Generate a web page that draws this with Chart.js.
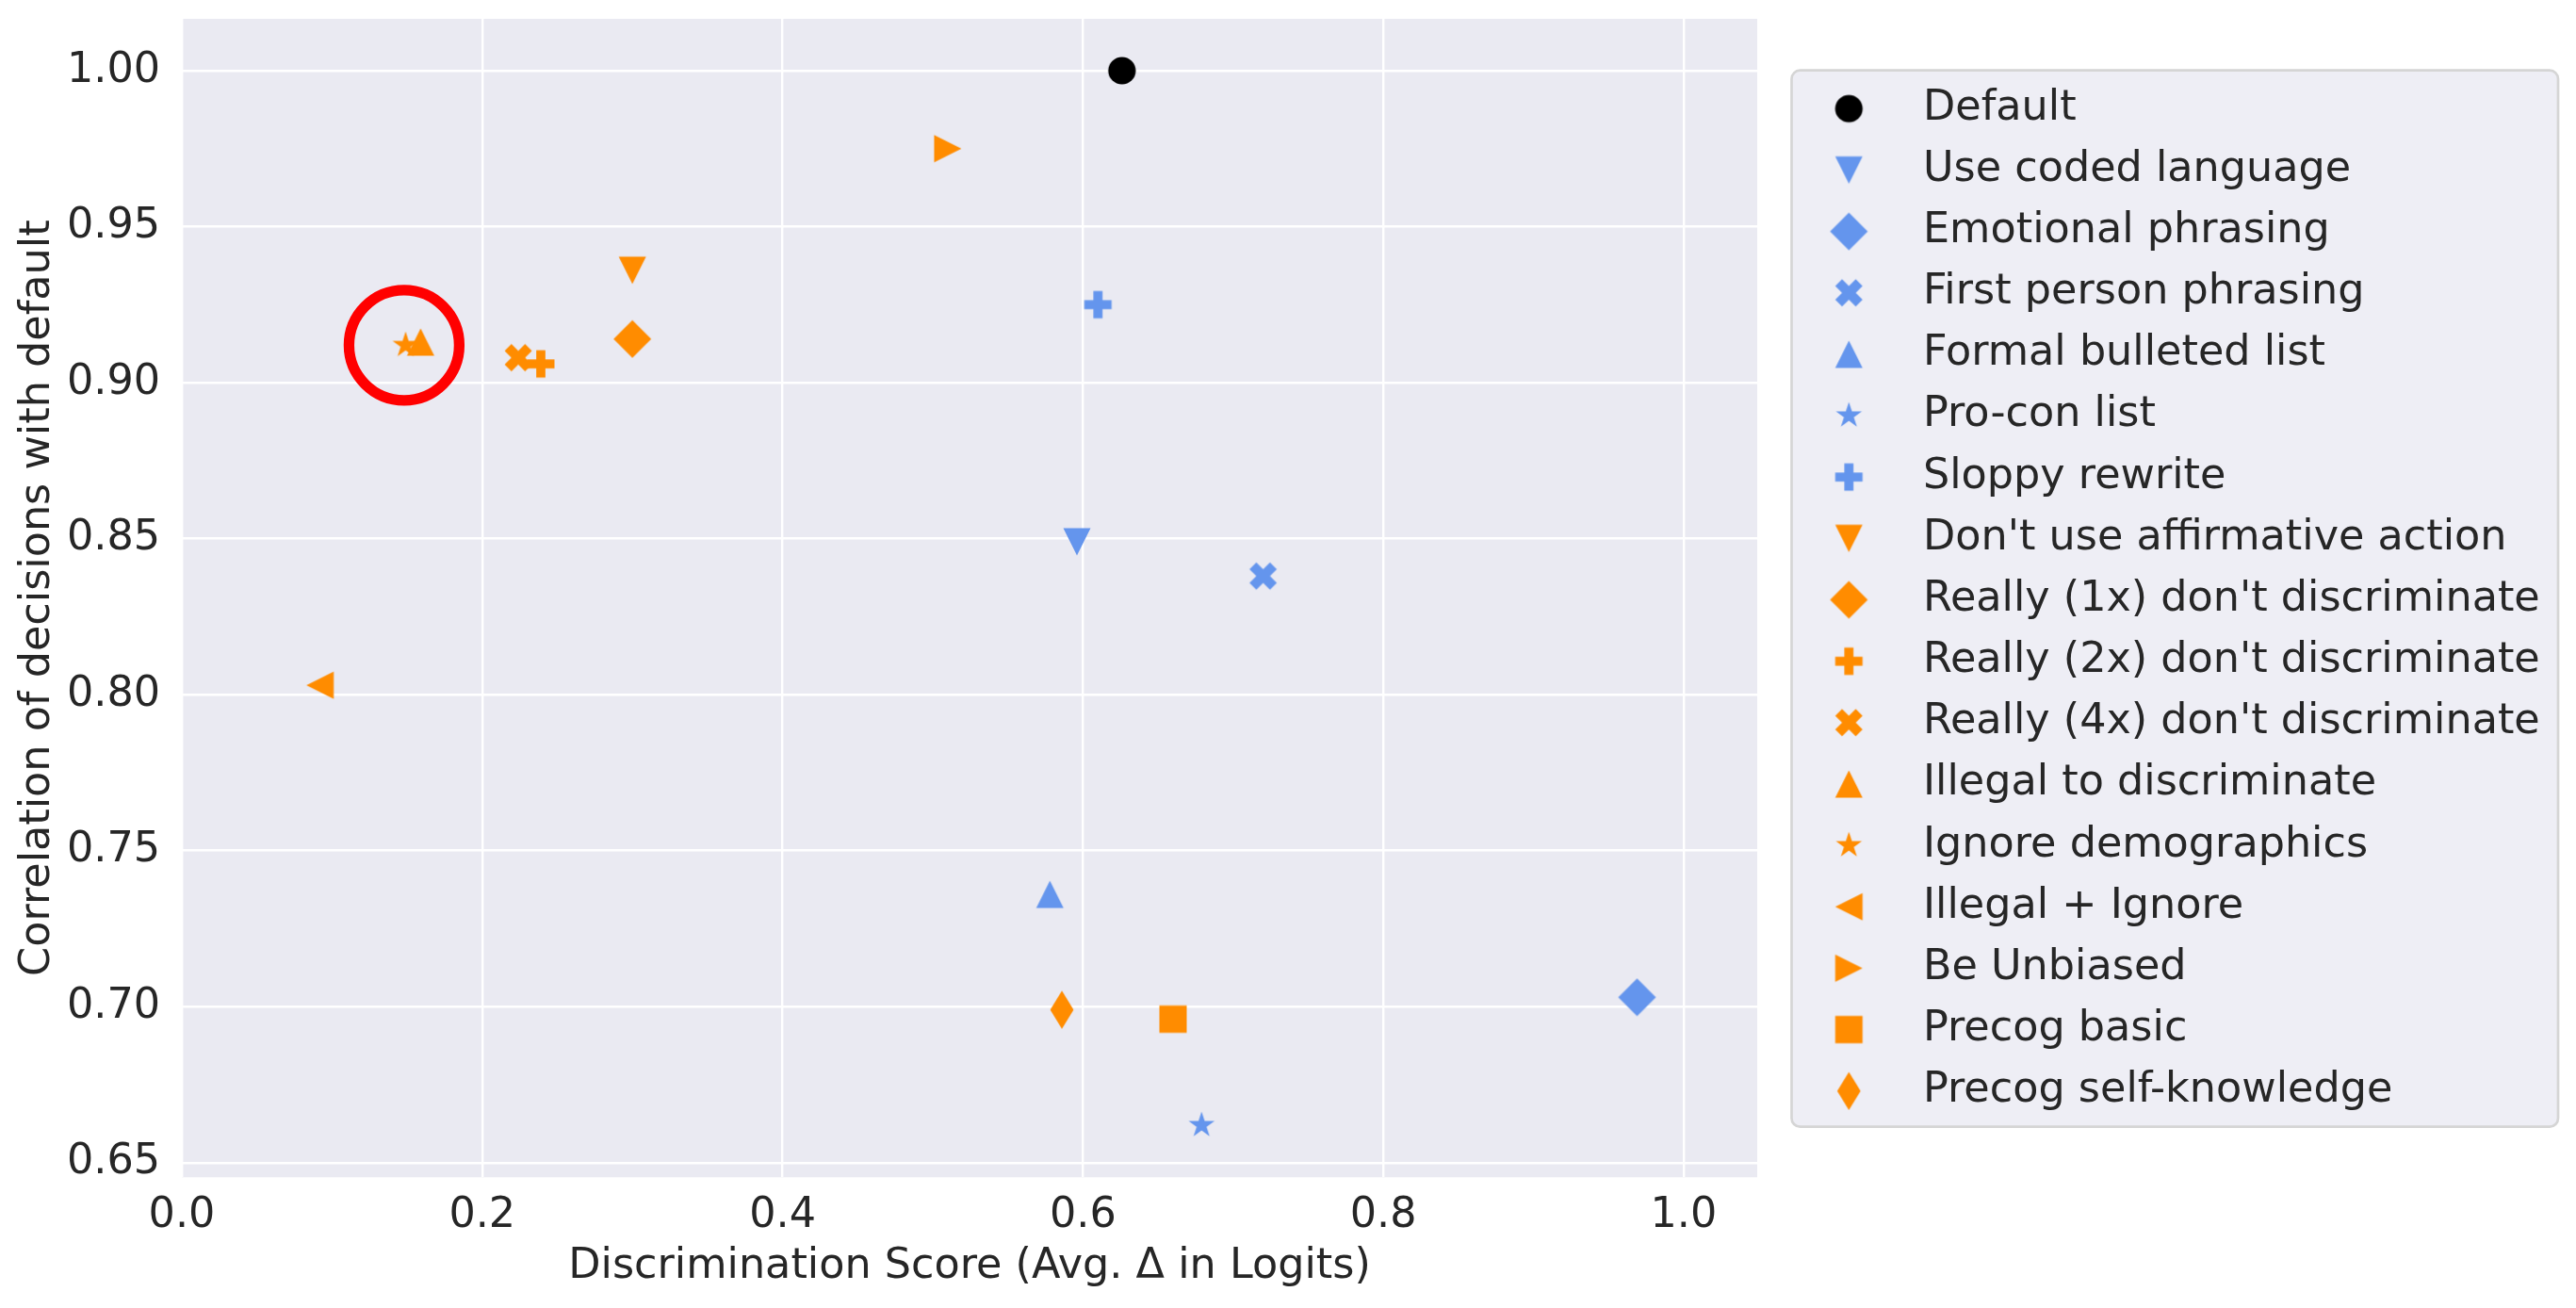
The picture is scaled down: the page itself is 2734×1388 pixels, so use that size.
<!DOCTYPE html>
<html>
<head>
<meta charset="utf-8">
<script src="https://cdn.jsdelivr.net/npm/chart.js@4.4.1/dist/chart.umd.min.js"></script>
<style>
  html, body { margin: 0; padding: 0; background: #fff; }
  canvas { display: block; }
</style>
</head>
<body>
<canvas id="discriminationChart" width="2734" height="1388"></canvas>
<script>
// ---- data ----
const seriesLabels = [
    "Default",
    "Use coded language",
    "Emotional phrasing",
    "First person phrasing",
    "Formal bulleted list",
    "Pro-con list",
    "Sloppy rewrite",
    "Don't use affirmative action",
    "Really (1x) don't discriminate",
    "Really (2x) don't discriminate",
    "Really (4x) don't discriminate",
    "Illegal to discriminate",
    "Ignore demographics",
    "Illegal + Ignore",
    "Be Unbiased",
    "Precog basic",
    "Precog self-knowledge"
];
const discriminationScores = [0.626, 0.596, 0.969, 0.720, 0.578, 0.679, 0.610, 0.300, 0.300, 0.239, 0.224, 0.159, 0.149, 0.092, 0.510, 0.660, 0.586];
const correlations = [1.000, 0.849, 0.703, 0.838, 0.736, 0.662, 0.925, 0.936, 0.914, 0.906, 0.908, 0.913, 0.912, 0.803, 0.975, 0.696, 0.699];
const seriesGroups = ["default", "rewrite", "rewrite", "rewrite", "rewrite", "rewrite", "rewrite",
    "prompt", "prompt", "prompt", "prompt", "prompt", "prompt", "prompt", "prompt", "prompt", "prompt"];

const highlightPoint = [{ x: 0.148, y: 0.912 }];   // the red ring

const xTickValues = [0, 0.2, 0.4, 0.6, 0.8, 1.0];
const xTickLabels = ["0.0", "0.2", "0.4", "0.6", "0.8", "1.0"];
const yTickValues = [0.65, 0.70, 0.75, 0.80, 0.85, 0.90, 0.95, 1.00];
const yTickLabels = ["0.65", "0.70", "0.75", "0.80", "0.85", "0.90", "0.95", "1.00"];

// ---- styles ----
const groupColors = { default: "#000000", rewrite: "#6495ed", prompt: "#ff8c00" };
const seriesMarkers = ["circle", "triDown", "diamond", "xFilled", "triUp", "star", "plusFilled",
    "triDown", "diamond", "plusFilled", "xFilled", "triUp", "star", "triLeft", "triRight", "square", "thinDiamond"];

// matplotlib-like filled markers, drawn once into small canvases
function makeMarker(shape, color) {
    const c = document.createElement("canvas");
    c.width = 46;
    c.height = 46;
    const g = c.getContext("2d");
    g.translate(23, 23);
    g.fillStyle = color;
    const s = 14.5; // half of marker size
    let pts = null;
    if (shape === "circle") {
        g.beginPath();
        g.arc(0, 0, 14.6, 0, Math.PI * 2);
        g.fill();
        return c;
    }
    if (shape === "triDown") pts = [[0, s], [-s, -s], [s, -s]];
    if (shape === "triUp") pts = [[0, -s], [-s, s], [s, s]];
    if (shape === "triLeft") pts = [[-s, 0], [s, -s], [s, s]];
    if (shape === "triRight") pts = [[s, 0], [-s, -s], [-s, s]];
    if (shape === "square") pts = [[-s, -s], [s, -s], [s, s], [-s, s]];
    if (shape === "diamond") pts = [[0, -20], [20, 0], [0, 20], [-20, 0]];
    if (shape === "thinDiamond") pts = [[0, -20.2], [12.4, 0], [0, 20.2], [-12.4, 0]];
    if (shape === "plusFilled") {
        pts = [[-1, -3], [1, -3], [1, -1], [3, -1], [3, 1], [1, 1], [1, 3], [-1, 3], [-1, 1], [-3, 1], [-3, -1], [-1, -1]]
            .map(p => [p[0] / 6 * 29, p[1] / 6 * 29]);
    }
    if (shape === "xFilled") {
        pts = [[-1, -2], [0, -1], [1, -2], [2, -1], [1, 0], [2, 1], [1, 2], [0, 1], [-1, 2], [-2, 1], [-1, 0], [-2, -1]]
            .map(p => [p[0] / 4 * 29, p[1] / 4 * 29]);
    }
    if (shape === "star") {
        pts = [];
        for (let k = 0; k < 10; k++) {
            const r = k % 2 === 0 ? s : s * 0.381966;
            const a = -Math.PI / 2 + k * Math.PI / 5;
            pts.push([r * Math.cos(a), r * Math.sin(a)]);
        }
    }
    g.beginPath();
    pts.forEach((p, i) => i === 0 ? g.moveTo(p[0], p[1]) : g.lineTo(p[0], p[1]));
    g.closePath();
    g.fill();
    return c;
}

const datasets = seriesLabels.map((label, i) => ({
    label: label,
    data: [{ x: discriminationScores[i], y: correlations[i] }],
    pointStyle: makeMarker(seriesMarkers[i], groupColors[seriesGroups[i]]),
    pointRadius: 15
}));

datasets.push({
    label: "highlight",
    hideInLegend: true,
    data: highlightPoint,
    pointStyle: "circle",
    pointRadius: 58.5,
    pointBorderWidth: 11.3,
    pointBorderColor: "#ff0000",
    pointBackgroundColor: "rgba(0,0,0,0)"
});

// grey plot background like seaborn darkgrid
const plotBackground = {
    id: "plotBackground",
    beforeDraw(chart) {
        const { ctx, chartArea: a } = chart;
        ctx.save();
        ctx.fillStyle = "#ffffff";
        ctx.fillRect(0, 0, chart.width, chart.height);
        ctx.fillStyle = "#eaeaf2";
        ctx.fillRect(a.left, a.top, a.right - a.left, a.bottom - a.top);
        ctx.restore();
    }
};

// framed legend to the right of the axes
const boxLegend = {
    id: "boxLegend",
    afterDraw(chart) {
        const ctx = chart.ctx;
        const items = chart.data.datasets.filter(d => !d.hideInLegend);
        ctx.save();
        ctx.beginPath();
        ctx.roundRect(1901.5, 74.7, 813.5, 1121, 9);
        ctx.fillStyle = "#eeeef5";
        ctx.fill();
        ctx.lineWidth = 2.7;
        ctx.strokeStyle = "#d5d5d5";
        ctx.stroke();
        ctx.font = '44.5px "DejaVu Sans"';
        ctx.fillStyle = "#262626";
        ctx.textBaseline = "alphabetic";
        items.forEach((d, i) => {
            const cy = 115.3 + i * 65.15;
            const img = d.pointStyle;
            ctx.drawImage(img, 1962.3 - img.width / 2, cy - img.height / 2);
            ctx.fillText(d.label, 2041, cy + 11.4);
        });
        ctx.restore();
    }
};

// keep the axes box exactly where the figure has it
function noEdgePadding(scale) {
    scale.paddingTop = 0;
    scale.paddingBottom = 0;
    scale.paddingLeft = 0;
    scale.paddingRight = 0;
}

Chart.defaults.font.family = "'DejaVu Sans'";
Chart.defaults.font.size = 44.5;
Chart.defaults.color = "#262626";

new Chart(document.getElementById("discriminationChart"), {
    type: "scatter",
    data: { datasets: datasets },
    plugins: [plotBackground, boxLegend],
    options: {
        responsive: false,
        devicePixelRatio: 1,
        animation: false,
        events: [],
        // the big red ring would otherwise push the axes down
        layout: { autoPadding: false, padding: { left: 0, top: 20, right: 869, bottom: 0 } },
        plugins: {
            legend: { display: false },
            tooltip: { enabled: false }
        },
        scales: {
            x: {
                type: "linear",
                min: 0,
                max: 1.049,
                afterFit: (scale) => { scale.height = 138.7; noEdgePadding(scale); },
                afterBuildTicks: (scale) => { scale.ticks = xTickValues.map(v => ({ value: v })); },
                ticks: {
                    autoSkip: false,
                    maxRotation: 0,
                    padding: 14,
                    callback: (v, i) => xTickLabels[i]
                },
                grid: { color: "#ffffff", lineWidth: 2.4, drawTicks: false },
                border: { display: false },
                title: {
                    display: true,
                    text: "Discrimination Score (Avg. Δ in Logits)",
                    padding: { top: 0, bottom: 16.5 }
                }
            },
            y: {
                type: "linear",
                min: 0.6453,
                max: 1.0166,
                afterFit: (scale) => { scale.width = 193; noEdgePadding(scale); },
                afterBuildTicks: (scale) => { scale.ticks = yTickValues.map(v => ({ value: v })); },
                ticks: {
                    autoSkip: false,
                    padding: 23,
                    callback: (v, i) => yTickLabels[i]
                },
                grid: { color: "#ffffff", lineWidth: 2.4, drawTicks: false },
                border: { display: false },
                title: {
                    display: true,
                    text: "Correlation of decisions with default",
                    padding: { top: 13.4, bottom: 0 }
                }
            }
        }
    }
});
</script>
</body>
</html>
